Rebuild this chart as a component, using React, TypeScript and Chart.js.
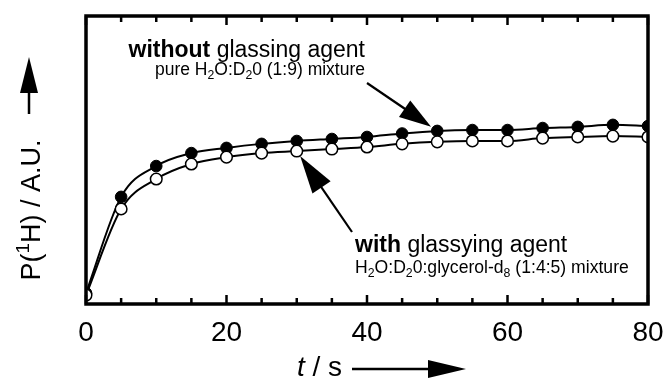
import React, { useEffect, useRef } from "react";
import { Chart, registerables } from "chart.js";

Chart.register(...registerables);

// ---- data ----
const times = [0, 5, 10, 15, 20, 25, 30, 35, 40, 45, 50, 55, 60, 65, 70, 75, 80];
const withoutAgent = [3.8, 37.2, 47.9, 52.4, 54.2, 55.6, 56.6, 57.3, 58.0, 59.2, 60.1, 60.4, 60.4, 61.1, 61.5, 62.2, 61.8];
const withAgent = [3.1, 33.0, 43.4, 48.6, 51.0, 52.4, 53.1, 53.8, 54.5, 55.6, 56.3, 56.6, 56.6, 57.6, 58.0, 58.3, 58.0];
const majorTicks = [0, 20, 40, 60, 80];
const minorTicks = [5, 10, 15, 25, 30, 35, 45, 50, 55, 65, 70, 75];
const xTitle = "t";
const xUnit = " / s";

const FONT = '"Liberation Sans", Arial, Helvetica, sans-serif';

type Seg = { t: string; b?: boolean; i?: boolean; sub?: boolean; sup?: boolean };

function segFont(s: Seg, size: number) {
  const sz = s.sub || s.sup ? size * 0.7 : size;
  return `${s.i ? "italic " : ""}${s.b ? "bold " : ""}${sz}px ${FONT}`;
}

function drawRich(ctx: CanvasRenderingContext2D, segs: Seg[], x: number, y: number, size: number, align: "left" | "right" | "center") {
  ctx.save();
  ctx.textBaseline = "alphabetic";
  ctx.textAlign = "left";
  let total = 0;
  const widths = segs.map((s) => {
    ctx.font = segFont(s, size);
    const w = ctx.measureText(s.t).width;
    total += w;
    return w;
  });
  let cx = align === "left" ? x : align === "right" ? x - total : x - total / 2;
  segs.forEach((s, k) => {
    ctx.font = segFont(s, size);
    const dy = s.sub ? size * 0.25 : s.sup ? -size * 0.4 : 0;
    ctx.fillText(s.t, cx, y + dy);
    cx += widths[k];
  });
  ctx.restore();
}

function drawArrow(ctx: CanvasRenderingContext2D, x1: number, y1: number, x2: number, y2: number, headLen: number, halfW: number, lw: number) {
  const dx = x2 - x1, dy = y2 - y1;
  const len = Math.hypot(dx, dy);
  const ux = dx / len, uy = dy / len;
  const bx = x2 - ux * headLen, by = y2 - uy * headLen;
  ctx.save();
  ctx.strokeStyle = "#000";
  ctx.fillStyle = "#000";
  ctx.lineWidth = lw;
  ctx.beginPath();
  ctx.moveTo(x1, y1);
  ctx.lineTo(bx + ux * 2, by + uy * 2);
  ctx.stroke();
  ctx.beginPath();
  ctx.moveTo(x2, y2);
  ctx.lineTo(bx - uy * halfW, by + ux * halfW);
  ctx.lineTo(bx + uy * halfW, by - ux * halfW);
  ctx.closePath();
  ctx.fill();
  ctx.restore();
}

const decorPlugin = {
  id: "decor",
  afterDatasetsDraw(chart: any) {
    const ctx: CanvasRenderingContext2D = chart.ctx;
    const { left, right, top, bottom } = chart.chartArea;
    const xs = chart.scales.x;
    const ys = chart.scales.y;
    ctx.save();
    // ticks
    ctx.strokeStyle = "#000";
    ctx.lineWidth = 2.5;
    const tick = (v: number, len: number) => {
      const px = xs.getPixelForValue(v);
      ctx.beginPath();
      ctx.moveTo(px, bottom);
      ctx.lineTo(px, bottom - len);
      ctx.moveTo(px, top);
      ctx.lineTo(px, top + len);
      ctx.stroke();
    };
    minorTicks.forEach((v) => tick(v, 6));
    majorTicks.forEach((v) => tick(v, 9));
    // frame
    ctx.lineWidth = 3.5;
    ctx.strokeRect(left, top, right - left, bottom - top);
    // tick labels
    ctx.fillStyle = "#000";
    ctx.font = `28px ${FONT}`;
    ctx.textAlign = "center";
    ctx.textBaseline = "alphabetic";
    majorTicks.forEach((v) => {
      ctx.fillText(String(v), xs.getPixelForValue(v), bottom + 37);
    });
    // x title
    drawRich(ctx, [{ t: xTitle, i: true }, { t: xUnit }], 297, 376, 28, "left");
    drawArrow(ctx, 352, 369, 466, 369, 38, 9, 2.5);
    // y title (rotated)
    ctx.save();
    ctx.translate(40, 210);
    ctx.rotate(-Math.PI / 2);
    drawRich(ctx, [{ t: "P(" }, { t: "1", sup: true }, { t: "H) / A.U." }], 0, 0, 27, "center");
    ctx.restore();
    drawArrow(ctx, 29, 114, 29, 57, 36, 9, 2.5);
    // annotations
    ctx.fillStyle = "#000";
    drawRich(ctx, [{ t: "without", b: true }, { t: " glassing agent" }], 365, 57, 23, "right");
    drawRich(ctx, [{ t: "pure H" }, { t: "2", sub: true }, { t: "O:D" }, { t: "2", sub: true }, { t: "0 (1:9) mixture" }], 365, 75, 17.5, "right");
    drawRich(ctx, [{ t: "with", b: true }, { t: " glassying agent" }], 355, 252, 23, "left");
    drawRich(ctx, [{ t: "H" }, { t: "2", sub: true }, { t: "O:D" }, { t: "2", sub: true }, { t: "0:glycerol-d" }, { t: "8", sub: true }, { t: " (1:4:5) mixture" }], 355, 273, 17.6, "left");
    // arrows pointing to data points
    const i50 = times.indexOf(50);
    const p1x = xs.getPixelForValue(50), p1y = ys.getPixelForValue(withoutAgent[i50]);
    const t1x = 367, t1y = 83;
    {
      const dx = p1x - t1x, dy = p1y - t1y, l = Math.hypot(dx, dy);
      drawArrow(ctx, t1x, t1y, p1x - (dx / l) * 7.5, p1y - (dy / l) * 7.5, 32, 10, 2.2);
    }
    const i30 = times.indexOf(30);
    const p2x = xs.getPixelForValue(30), p2y = ys.getPixelForValue(withAgent[i30]);
    const t2x = 352, t2y = 232;
    {
      const dx = p2x - t2x, dy = p2y - t2y, l = Math.hypot(dx, dy);
      drawArrow(ctx, t2x, t2y, p2x - (dx / l) * 6, p2y - (dy / l) * 6, 38, 11, 2.2);
    }
    ctx.restore();
  },
};

export default function App() {
  const ref = useRef<HTMLCanvasElement>(null);
  useEffect(() => {
    document.body.style.margin = "0";
    const canvas = ref.current!;
    const chart = new Chart(canvas, {
      type: "line",
      data: {
        datasets: [
          {
            label: "with glassying agent",
            data: times.map((t, i) => ({ x: t, y: withAgent[i] })),
            borderColor: "#000",
            borderWidth: 2,
            backgroundColor: "#fff",
            pointBackgroundColor: "#fff",
            pointBorderColor: "#000",
            pointBorderWidth: 1.5,
            pointRadius: 5.8,
            cubicInterpolationMode: "monotone",
          },
          {
            label: "without glassing agent",
            data: times.map((t, i) => ({ x: t, y: withoutAgent[i] })),
            borderColor: "#000",
            borderWidth: 2,
            backgroundColor: "#000",
            pointBackgroundColor: "#000",
            pointBorderColor: "#000",
            pointBorderWidth: 1,
            pointRadius: 5.8,
            cubicInterpolationMode: "monotone",
          },
        ],
      },
      options: {
        animation: false,
        responsive: false,
        events: [],
        layout: { padding: { left: 86, right: 17, top: 16, bottom: 75 } },
        plugins: { legend: { display: false }, tooltip: { enabled: false } },
        scales: {
          x: { type: "linear", min: 0, max: 80, display: false },
          y: { type: "linear", min: 0, max: 100, display: false },
        },
      },
      plugins: [decorPlugin],
    });
    return () => chart.destroy();
  }, []);
  return (
    <div style={{ width: 665, height: 379 }}>
      <canvas ref={ref} width={665} height={379} />
    </div>
  );
}
